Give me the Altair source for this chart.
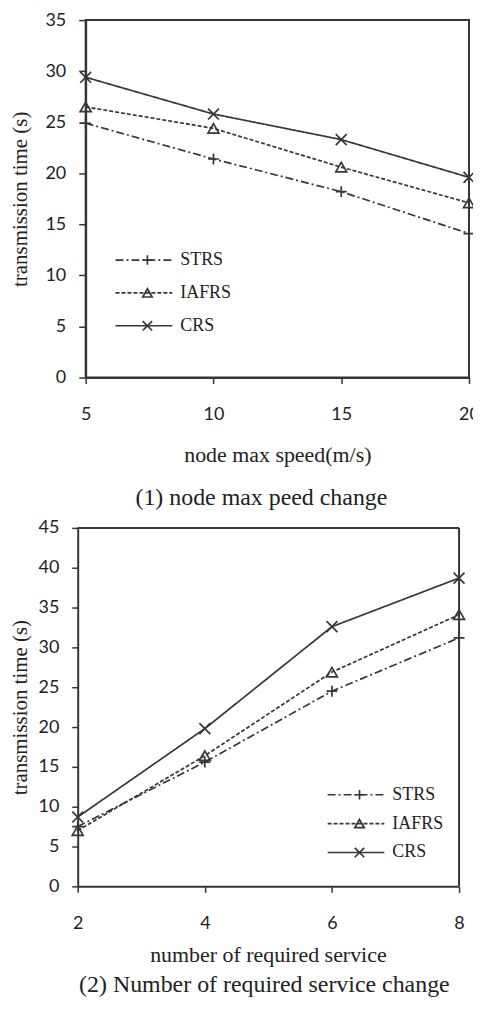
import altair as alt
import pandas as pd

# ---- data ----
series = ["STRS", "IAFRS", "CRS"]

speed = [5, 10, 15, 20]
strs_speed = [24.9, 21.4, 18.2, 14.1]
iafrs_speed = [26.5, 24.4, 20.6, 17.1]
crs_speed = [29.4, 25.8, 23.3, 19.6]

services = [2, 4, 6, 8]
strs_serv = [7.5, 15.6, 24.5, 31.2]
iafrs_serv = [7.0, 16.4, 26.9, 34.1]
crs_serv = [8.7, 19.8, 32.6, 38.7]

y_title = "transmission time (s)"
x_title_1 = "node  max speed(m/s)"
x_title_2 = "number of required service"
caption_1 = "(1) node max peed change"
caption_2 = "(2) Number of required service change"

INK = "#363636"
TXT = "#222222"
SERIF = "Liberation Serif"
SANS = "Lato"

DASHES = [[8, 3, 2, 3], [4, 2], [1, 0]]
SHAPES = ["M-1,0H1M0,-1V1", "triangle-up", "M-1,-1L1,1M-1,1L1,-1"]


def frame(xs, ys_list):
    rows = []
    for name, ys in zip(series, ys_list):
        for x, y in zip(xs, ys):
            rows.append({"x": x, "y": y, "series": name, "marker": name})
    return pd.DataFrame(rows)


def panel(df, xs, xtitle, ymax, w, h, caption, lx, ly, rowpad,
          ytp, xlp, xtp, cap_off, cap_dx, ytick,
          xrange=None, yoffset=0, xtitle_x=None, own_frame=False):
    yvals = list(range(0, ymax + 1, 5))
    xscale = dict(domain=[xs[0], xs[-1]], nice=False, zero=False)
    if xrange is not None:
        xscale["range"] = xrange
    xaxis = dict(values=xs, title=xtitle, titlePadding=xtp, titleFontSize=22,
                 labelPadding=xlp, tickSize=6, labelFlush=False, labelOverlap=False,
                 format="d")
    if xtitle_x is not None:
        xaxis["titleX"] = xtitle_x
    yaxis = dict(values=yvals, title=y_title, titlePadding=ytp, format="d",
                 labelPadding=13, tickSize=ytick, offset=yoffset)

    def X(field):
        return alt.X(field + ":Q", scale=alt.Scale(**xscale), axis=alt.Axis(**xaxis))

    def Y(field):
        return alt.Y(field + ":Q", scale=alt.Scale(domain=[0, ymax], nice=False),
                     axis=alt.Axis(**yaxis))

    base = alt.Chart(df).encode(x=X("x"), y=Y("y"))
    lines = base.mark_line(color=INK, strokeWidth=1.7).encode(
        strokeDash=alt.StrokeDash(
            "series:N", sort=series,
            scale=alt.Scale(range=DASHES),
            legend=alt.Legend(orient="none", legendX=lx, legendY=ly, title=None,
                              symbolType="stroke", symbolSize=3249,
                              symbolStrokeColor=INK, symbolStrokeWidth=1.7,
                              clipHeight=20, rowPadding=rowpad, labelOffset=7,
                              padding=0, labelFont=SERIF, labelFontSize=18,
                              labelColor=TXT)),
    )
    points = base.mark_point(filled=False, color=INK, strokeWidth=1.7, size=120,
                             opacity=1).encode(
        shape=alt.Shape(
            "marker:N", sort=series,
            scale=alt.Scale(range=SHAPES),
            legend=alt.Legend(orient="none", legendX=lx + 24, legendY=ly, title=None,
                              symbolSize=90, symbolStrokeColor=INK,
                              symbolFillColor="transparent", symbolStrokeWidth=1.7,
                              clipHeight=20, rowPadding=rowpad, padding=0,
                              labelExpr="''", labelFontSize=18)),
    )
    layers = [lines, points]
    props = dict(width=w, height=h,
                 title=alt.TitleParams(caption, orient="bottom", anchor="middle",
                                       frame="group", font=SERIF, fontSize=24,
                                       fontWeight="normal", color=TXT,
                                       offset=cap_off, dx=cap_dx))
    if own_frame:
        box = pd.DataFrame({"x0": [xs[0]], "x1": [xs[-1]], "y0": [0], "y1": [ymax]})
        top = alt.Chart(box).mark_rule(color=INK, strokeWidth=2).encode(
            x=X("x0"), x2="x1:Q", y=Y("y1"))
        right = alt.Chart(box).mark_rule(color=INK, strokeWidth=2).encode(
            x=X("x1"), y=Y("y0"), y2="y1:Q")
        layers += [top, right]
        props["view"] = alt.ViewBackground(stroke="transparent")
    return alt.layer(*layers).properties(**props)


p1 = panel(frame(speed, [strs_speed, iafrs_speed, crs_speed]), speed, x_title_1, 35,
           385, 359, caption_1, 29, 231, 13, 15, 22, 21, 21, -16, 7)
p2 = panel(frame(services, [strs_serv, iafrs_serv, crs_serv]), services, x_title_2, 45,
           375, 360, caption_2, 242, 258, 9, 8, 22, 12, 8, -8, 6,
           xrange=[-8, 375], yoffset=8, xtitle_x=183, own_frame=True)

chart = alt.vconcat(p1, p2, spacing=7).resolve_scale(
    strokeDash="independent", shape="independent"
).resolve_legend(
    strokeDash="independent", shape="independent"
).properties(
    padding={"top": 0, "left": 0, "right": -8, "bottom": 0}
).configure_view(
    stroke=INK, strokeWidth=2
).configure_axis(
    grid=False, domainColor=INK, domainWidth=2, tickColor=INK, tickWidth=1.5,
    labelFont=SANS, labelFontSize=18, labelColor=TXT,
    titleFont=SERIF, titleFontSize=21, titleFontWeight="normal", titleColor=TXT,
)

chart.save("out.html", embed_options={"renderer": "svg", "actions": False})
